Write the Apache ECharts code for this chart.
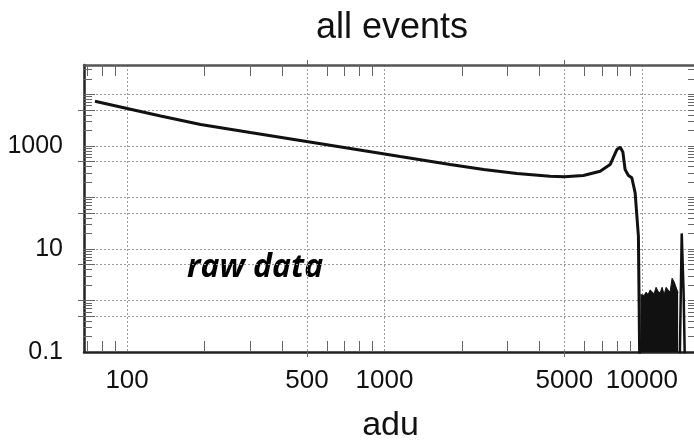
<!DOCTYPE html>
<html>
<head>
<meta charset="utf-8">
<script src="https://cdn.jsdelivr.net/npm/echarts@6/dist/echarts.min.js"></script>
<style>
  html, body { margin: 0; padding: 0; background: #fff; }
  #chart { width: 694px; height: 442px; }
</style>
</head>
<body>
<div id="chart"></div>
<script>
// ADC spectrum of all events: counts per bin on log-log axes.
const curveAdu    = [75, 100, 135, 193, 301, 471, 737, 1150, 1800, 2430, 3270, 4400, 5000, 5930, 6890, 7530, 8000, 8240, 8440, 8610, 8870, 9145, 9420, 9700, 9850];
const curveCounts = [7350, 5300, 3790, 2600, 1810, 1268, 888, 620, 433, 347, 290, 257, 250, 265, 321, 433, 847, 940, 760, 347, 265, 240, 122, 17.6, 0];

// Noisy band just above 10000 adu (bins holding one or two counts)
const bandAdu    = [9880, 10030, 10210, 10390, 10580, 10770, 10960, 11160, 11360, 11570, 11780, 11990, 12210, 12430, 12650, 12880, 13110, 13350, 13590, 13840];
const bandCounts = [1.3, 1.3, 1.25, 1.45, 1.3, 1.6, 1.5, 1.35, 1.8, 1.5, 1.4, 1.8, 1.3, 1.8, 1.6, 1.45, 2.7, 2.3, 2.2, 1.4];

// Isolated spike near the end of the range
const spikeAdu    = [13960, 14290, 14530, 14800];
const spikeCounts = [0, 20, 1.5, 0];

// Axis ticks
const xLabelValues   = [100, 500, 1000, 5000, 10000];
const xMinorValues   = [70, 80, 90, 200, 300, 400, 600, 700, 800, 900, 2000, 3000, 4000, 6000, 7000, 8000, 9000];
const xOutsideValues = [500, 5000];
const yLabelValues   = [0.1, 10, 1000];
const yGridValues    = [0.5, 1, 5, 10, 50, 100, 500, 1000, 5000, 10000];
const yMinorValues   = [0.2, 0.3, 0.4, 0.6, 0.7, 0.8, 0.9, 2, 3, 4, 6, 7, 8, 9, 20, 30, 40, 60, 70, 80, 90,
                        200, 300, 400, 600, 700, 800, 900, 2000, 3000, 4000, 6000, 7000, 8000, 9000, 20000, 30000];
const yOutsideValues = [0.5, 1, 5, 50, 500, 5000];

const X_MIN = 68, X_MAX = 16384, Y_MIN = 0.1, Y_MAX = 37000;
// Empty bins have no place on a log axis; they are drawn below the bottom edge and clipped.
const EMPTY_BIN = 0.01;

const FONT = "'Liberation Sans', Arial, sans-serif";

function toPoints(xs, ys) {
  return xs.map((x, i) => [x, ys[i] > 0 ? ys[i] : EMPTY_BIN]);
}
const fmt = v => String(+Number(v).toPrecision(6));

const gridLine = { show: true, lineStyle: { color: '#9a9a9a', width: 1, type: [2, 2] } };
const hidden = {
  axisLine: { show: false, onZero: false },
  axisTick: { show: false },
  axisLabel: { show: false },
  splitLine: { show: false },
  minorTick: { show: false },
  minorSplitLine: { show: false }
};

function xAxis(position, extra) {
  return Object.assign({ type: 'log', gridIndex: 0, position, min: X_MIN, max: X_MAX }, hidden, extra);
}
function yAxis(position, extra) {
  return Object.assign({ type: 'log', gridIndex: 0, position, min: Y_MIN, max: Y_MAX }, hidden, extra);
}

const tickStyle = { color: '#666', width: 1 };

const option = {
  animation: false,
  backgroundColor: '#fff',
  title: {
    text: 'all events',
    left: 311,
    top: 5,
    textStyle: { fontFamily: FONT, fontSize: 36, fontWeight: 'normal', color: '#111' }
  },
  grid: { left: 84, right: -3, top: 65, bottom: 90, containLabel: false, outerBoundsMode: 'none' },
  xAxis: [
    xAxis('bottom', {
      name: 'adu',
      nameLocation: 'middle',
      nameGap: 57,
      nameTextStyle: { fontFamily: FONT, fontSize: 34, color: '#111' },
      axisLine: { show: true, onZero: false, lineStyle: { color: '#222', width: 2.5 } },
      axisTick: { show: false, customValues: xLabelValues },
      axisLabel: { show: true, customValues: xLabelValues, formatter: fmt, margin: 16,
                   fontFamily: FONT, fontSize: 26, color: '#111' },
      splitLine: gridLine
    }),
    xAxis('bottom', { axisTick: { show: true, inside: true, length: 11, customValues: xMinorValues, lineStyle: tickStyle } }),
    xAxis('bottom', { axisTick: { show: true, inside: false, length: 5, customValues: xOutsideValues, lineStyle: tickStyle } }),
    xAxis('top', {
      axisLine: { show: true, onZero: false, lineStyle: { color: '#555', width: 2.5 } },
      axisTick: { show: true, inside: true, length: 11, customValues: xMinorValues, lineStyle: tickStyle }
    }),
    xAxis('top', { axisTick: { show: true, inside: false, length: 5, customValues: xOutsideValues, lineStyle: tickStyle } })
  ],
  yAxis: [
    yAxis('left', {
      axisLine: { show: true, onZero: false, lineStyle: { color: '#222', width: 2.5 } },
      axisTick: { show: true, inside: true, length: 11, customValues: yGridValues, lineStyle: tickStyle },
      axisLabel: { show: true, customValues: yLabelValues, formatter: fmt, margin: 21,
                   fontFamily: FONT, fontSize: 25, color: '#111' },
      splitLine: gridLine
    }),
    yAxis('left', { axisTick: { show: true, inside: true, length: 8, customValues: yMinorValues, lineStyle: tickStyle } }),
    yAxis('left', { axisTick: { show: true, inside: false, length: 6, customValues: yOutsideValues, lineStyle: tickStyle } }),
    yAxis('right', {
      axisLine: { show: true, onZero: false, lineStyle: { color: '#555', width: 2.5 } },
      axisTick: { show: true, inside: true, length: 9, customValues: yMinorValues.concat(yGridValues), lineStyle: tickStyle }
    })
  ],
  graphic: [{
    type: 'text',
    left: 187,
    top: 252,
    style: {
      text: 'raw data',
      fontFamily: "'Open Sans', 'Noto Sans', sans-serif",
      fontSize: 32,
      fontWeight: 'bold',
      fontStyle: 'italic',
      fill: '#000'
    }
  }],
  series: [
    {
      name: 'counts',
      type: 'line',
      xAxisIndex: 0, yAxisIndex: 0,
      data: toPoints(curveAdu, curveCounts),
      symbol: 'none',
      clip: true,
      lineStyle: { color: '#111', width: 3 },
      z: 5
    },
    {
      name: 'band',
      type: 'line',
      xAxisIndex: 0, yAxisIndex: 0,
      data: toPoints(bandAdu, bandCounts),
      symbol: 'none',
      clip: true,
      lineStyle: { color: '#111', width: 1 },
      areaStyle: { color: '#111', opacity: 1, origin: 'start' },
      z: 4
    },
    {
      name: 'spike',
      type: 'line',
      xAxisIndex: 0, yAxisIndex: 0,
      data: toPoints(spikeAdu, spikeCounts),
      symbol: 'none',
      clip: true,
      lineStyle: { color: '#111', width: 2.5 },
      z: 4
    }
  ]
};

const chart = echarts.init(document.getElementById('chart'), null, { renderer: 'canvas' });
chart.setOption(option);
</script>
</body>
</html>
